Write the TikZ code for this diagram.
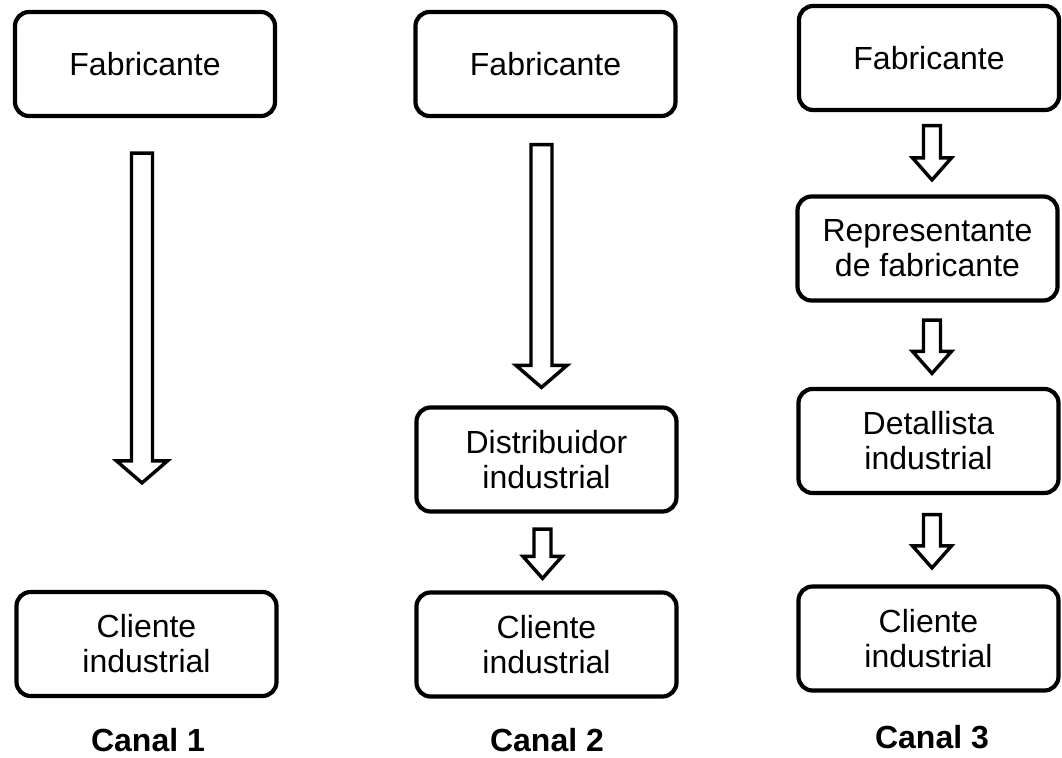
\documentclass[tikz,border=0pt]{standalone}
\usepackage{fontspec}
\setmainfont{Liberation Sans}
\usetikzlibrary{calc}

\tikzset{
  stage/.style={draw, line width=2.1pt, rounded corners=7pt, minimum width=130pt,
    minimum height=52pt, align=center, font=\fontsize{16}{17.5}\selectfont},
  canal/.style={inner sep=0pt, font=\fontsize{16}{17.5}\selectfont\bfseries},
  hollow/.style={draw, line width=1.7pt, fill=white, line join=miter},
}

% hollow block arrow: start, tip, half shaft, half head, head length
\newcommand{\blockarrow}[5]{%
  \draw[hollow] let \p1=#1, \p2=#2 in
    (\x1-#3,\y1) -- (\x1+#3,\y1) -- (\x1+#3,\y2+#5) -- (\x1+#4,\y2+#5)
    -- (\x1,\y2) -- (\x1-#4,\y2+#5) -- (\x1-#3,\y2+#5) -- cycle;
}

\begin{document}
\begin{tikzpicture}[x=0.5pt, y=-0.5pt]

	\useasboundingbox (0,0) rectangle (1062,757);

	% Canal 1
	\node [stage] (fab1) at (145,64) {Fabricante};
	\node [stage] (cli1) at (146.5,644) {Cliente\\industrial};
	\node [canal] (lab1) at (148,740) {Canal 1};

	\blockarrow{($(fab1.south)+(-3,35)$)}{($(cli1.north)+(-4.5,-107)$)}{5.25pt}{12.75pt}{11pt}

	% Canal 2
	\node [stage] (fab2) at (545.5,64) {Fabricante};
	\node [stage] (dis2) at (546.5,459.5) {Distribuidor\\industrial};
	\node [stage] (cli2) at (546.5,644.5) {Cliente\\industrial};
	\node [canal] (lab2) at (547,740) {Canal 2};

	\blockarrow{($(fab2.south)+(-4,26.5)$)}{($(dis2.north)+(-5,-18)$)}{5.25pt}{12.75pt}{11pt}
	\blockarrow{($(dis2.south)+(-4,15.5)$)}{($(cli2.north)+(-4,-12)$)}{4.25pt}{9.75pt}{11pt}

	% Canal 3
	\node [stage] (fab3) at (929,58) {Fabricante};
	\node [stage] (rep3) at (927.5,248.5) {Representante\\de fabricante};
	\node [stage] (det3) at (928.5,441) {Detallista\\industrial};
	\node [stage] (cli3) at (928.5,638.5) {Cliente\\industrial};
	\node [canal] (lab3) at (932,737.5) {Canal 3};

	\blockarrow{($(fab3.south)+(3,13.5)$)}{($(rep3.north)+(4.5,-14.5)$)}{4.25pt}{9.75pt}{11pt}
	\blockarrow{($(rep3.south)+(4.5,17.5)$)}{($(det3.north)+(3.5,-13.5)$)}{4.25pt}{9.75pt}{11pt}
	\blockarrow{($(det3.south)+(3.5,19.5)$)}{($(cli3.north)+(3.5,-16.5)$)}{4.25pt}{9.75pt}{11pt}

\end{tikzpicture}
\end{document}
